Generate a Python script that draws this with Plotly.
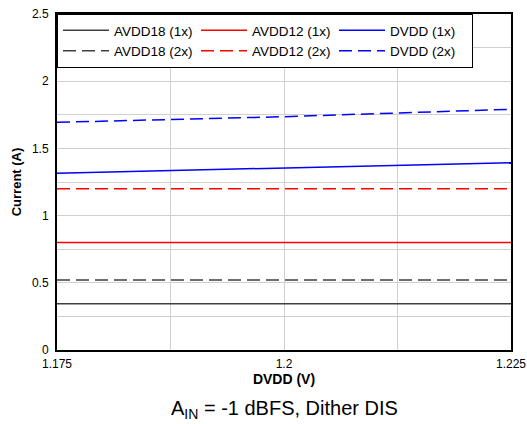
import plotly.graph_objects as go

dvdd_v = [1.175, 1.2, 1.225]
avdd18_1x = [0.345, 0.345, 0.345]
avdd18_2x = [0.52, 0.52, 0.52]
avdd12_1x = [0.80, 0.80, 0.80]
avdd12_2x = [1.20, 1.20, 1.20]
dvdd_1x = [1.315, 1.352, 1.394]
dvdd_2x = [1.694, 1.736, 1.791]

series = [
    ("AVDD18 (1x)", avdd18_1x, "#404040", "solid"),
    ("AVDD12 (1x)", avdd12_1x, "#ff0000", "solid"),
    ("DVDD (1x)", dvdd_1x, "#0000ff", "solid"),
    ("AVDD18 (2x)", avdd18_2x, "#404040", "13px,6px"),
    ("AVDD12 (2x)", avdd12_2x, "#ff0000", "13px,6px"),
    ("DVDD (2x)", dvdd_2x, "#0000ff", "13px,6px"),
]

fig = go.Figure()
for name, ys, color, dash in series:
    fig.add_trace(go.Scatter(x=dvdd_v, y=ys, mode="lines", name=name,
                             line=dict(color=color, width=1.5, dash=dash)))

font = "Liberation Sans, Arial, sans-serif"
fig.update_layout(
    width=527, height=424,
    margin=dict(l=57, r=16, t=14, b=74),
    paper_bgcolor="white", plot_bgcolor="white",
    font=dict(family=font, size=12, color="black"),
    showlegend=True,
    legend=dict(orientation="h", x=0, y=1, xanchor="left", yanchor="top",
                itemwidth=46, entrywidth=77, bgcolor="white", bordercolor="black", borderwidth=1,
                font=dict(size=13.5), tracegroupgap=0),
    xaxis=dict(range=[1.175, 1.225], tickvals=[1.175, 1.2, 1.225],
               ticktext=["1.175", "1.2", "1.225"], automargin=False,
               showgrid=True, gridcolor="#d0d0d0", gridwidth=1,
               minor=dict(dtick=0.0125, tick0=1.175, showgrid=True, gridcolor="#d0d0d0", gridwidth=1),
               showline=True, linecolor="black", linewidth=2, mirror=True,
               zeroline=False, ticks="", ticklabelstandoff=2,
               title=dict(text="<b>DVDD (V)</b>", font=dict(size=14), standoff=2)),
    yaxis=dict(range=[0, 2.5], automargin=False,
               tickvals=[0, 0.5, 1, 1.5, 2, 2.5], ticktext=["0", "0.5", "1", "1.5", "2", "2.5"],
               showgrid=True, gridcolor="#d0d0d0", gridwidth=1,
               minor=dict(dtick=0.25, tick0=0, showgrid=True, gridcolor="#d0d0d0", gridwidth=1),
               showline=True, linecolor="black", linewidth=2, mirror=True,
               zeroline=False, ticks="", ticklabelstandoff=4,
               title=dict(text="<b>Current (A)</b>", font=dict(size=13), standoff=7)),
    annotations=[dict(text="A<sub>IN</sub> = -1 dBFS, Dither DIS", xref="paper", yref="paper",
                      x=0.5, y=-0.135, xanchor="center", yanchor="top", showarrow=False,
                      font=dict(size=20, family=font))],
)

fig.write_html("out.html", config={"displayModeBar": False},
               post_script="document.body.style.margin='0';document.body.style.overflow='hidden';")
